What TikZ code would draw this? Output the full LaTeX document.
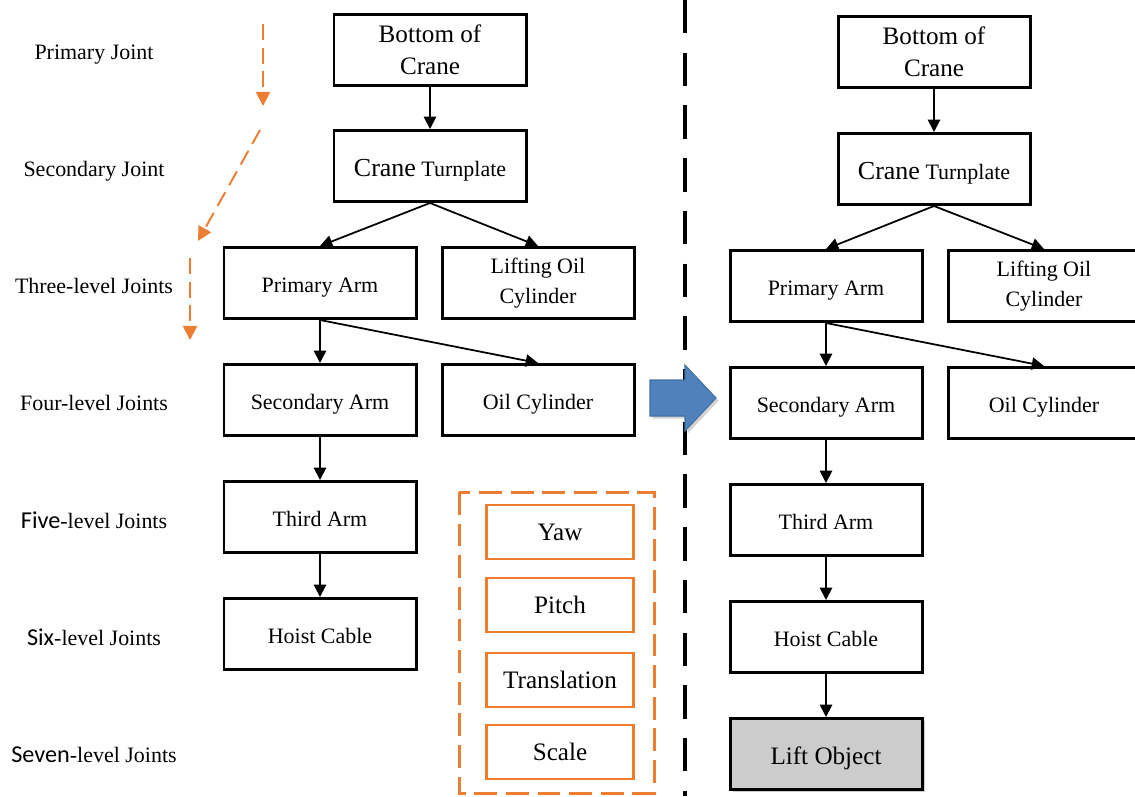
\documentclass[tikz,border=0pt]{standalone}
\usepackage{fontspec}
\setmainfont{Liberation Serif}
\newfontfamily\lvlfont{Carlito}
\usetikzlibrary{arrows.meta,shadows}
\definecolor{orng}{HTML}{ED7D31}
\definecolor{blu}{HTML}{4F81BD}
\definecolor{bluedge}{HTML}{41719C}
\newcommand{\bigtxt}{\fontsize{14.3}{18}\selectfont}
\newcommand{\smtxt}{\fontsize{12.5}{17}\selectfont}
\tikzset{
    part/.style={draw, line width=1.7pt, minimum width=38.4mm, minimum height=14.2mm, align=center, font=\smtxt},
    oneline/.style={text height=11pt, text depth=0pt},
    dof/.style={draw=orng, line width=1.5pt, minimum width=29.4mm, minimum height=10.8mm, font=\bigtxt},
    lvl/.style={font=\smtxt, text depth=0pt},
    link/.style={line width=1pt, -{Triangle[length=7pt,width=7pt]}},
    flow/.style={orng, line width=1.1pt, dash pattern=on 9pt off 4.5pt, -{Triangle[length=8pt,width=8pt]}}
}

\begin{document}
\begin{tikzpicture}[x=0.2mm,y=-0.2mm]
            \useasboundingbox (0,0) rectangle (1135,796);
            
            % joint levels
            \node[lvl] (L1) at (94,52) {Primary Joint};
            \node[lvl] (L2) at (94,169) {Secondary Joint};
            \node[lvl] (L3) at (94,286) {Three-level Joints};
            \node[lvl] (L4) at (94,403) {Four-level Joints};
            \node[lvl] (L5) at (94,520) {{\lvlfont\fontsize{13.8}{16}\selectfont Five}-level Joints};
            \node[lvl] (L6) at (94,637) {{\lvlfont\fontsize{13.8}{16}\selectfont Six}-level Joints};
            \node[lvl] (L7) at (94,755) {{\lvlfont\fontsize{13.8}{16}\selectfont Seven}-level Joints};
            
            \coordinate (F1a) at (263,24);
            \coordinate (F1b) at (263,106);
            \coordinate (F2a) at (260,130);
            \coordinate (F2b) at (198,241);
            \coordinate (F3a) at (190,258);
            \coordinate (F3b) at (190,340);
            \draw[flow] (F1a) -- (F1b);
            \draw[flow] (F2a) -- (F2b);
            \draw[flow] (F3a) -- (F3b);
            
            % left tree
            \node[part, font=\bigtxt] (B) at (430,50) {Bottom of\\Crane};
            \node[part, text height=12.5pt, text depth=0pt] (T) at (430,166) {{\fontsize{14.8}{18}\selectfont Crane} Turnplate};
            \node[part, oneline] (PA) at (320,283) {Primary Arm};
            \node[part] (LC) at (538,283) {Lifting Oil\\Cylinder};
            \node[part, oneline] (SA) at (320,400) {Secondary Arm};
            \node[part, oneline] (OC) at (538,400) {Oil Cylinder};
            \node[part, oneline] (TA) at (320,517) {Third Arm};
            \node[part, oneline] (HC) at (320,634) {Hoist Cable};
            
            \draw[link] (B) -- (T);
            \draw[link] (T.south) -- (PA.north);
            \draw[link] (T.south) -- (LC.north);
            \draw[link] (PA.south) -- (SA.north);
            \draw[link] (PA.south) -- (OC.north);
            \draw[link] (SA) -- (TA);
            \draw[link] (TA) -- (HC);
            
            % transform box
            \draw[orng, line width=1.7pt, dash pattern=on 13pt off 5pt] (459,492) rectangle (654,793);
            \node[dof] (Y) at (560,532) {Yaw};
            \node[dof] (P) at (560,605) {Pitch};
            \node[dof] (TR) at (560,680) {Translation};
            \node[dof] (S) at (560,752) {Scale};
            
            % divider and arrow
            \draw[line width=2.5pt, dash pattern=on 19pt off 11pt] (685,0) -- (685,796);
            \fill[blu, draw=bluedge, line width=0.6pt, drop shadow={shadow xshift=1.5pt, shadow yshift=-1.5pt, opacity=0.35}]
                (650,380) -- (685,380) -- (685,365) -- (716,398) -- (685,431) -- (685,416) -- (650,416) -- cycle;
            
            % right tree
            \node[part, font=\bigtxt] (B2) at (934,52) {Bottom of\\Crane};
            \node[part, text height=12.5pt, text depth=0pt] (T2) at (934,169) {{\fontsize{14.8}{18}\selectfont Crane} Turnplate};
            \node[part, oneline] (PA2) at (826,286) {Primary Arm};
            \node[part] (LC2) at (1044,286) {Lifting Oil\\Cylinder};
            \node[part, oneline] (SA2) at (826,403) {Secondary Arm};
            \node[part, oneline] (OC2) at (1044,403) {Oil Cylinder};
            \node[part, oneline] (TA2) at (826,520) {Third Arm};
            \node[part, oneline] (HC2) at (826,637) {Hoist Cable};
            \node[part, fill=black!20, font=\bigtxt, text height=12pt, text depth=0pt, drop shadow={shadow xshift=1.5pt, shadow yshift=-1.5pt, opacity=0.4}] (LO) at (826,754) {Lift Object};
            
            \draw[link] (B2) -- (T2);
            \draw[link] (T2.south) -- (PA2.north);
            \draw[link] (T2.south) -- (LC2.north);
            \draw[link] (PA2.south) -- (SA2.north);
            \draw[link] (PA2.south) -- (OC2.north);
            \draw[link] (SA2) -- (TA2);
            \draw[link] (TA2) -- (HC2);
            \draw[link] (HC2) -- (LO);
\end{tikzpicture}
\end{document}
